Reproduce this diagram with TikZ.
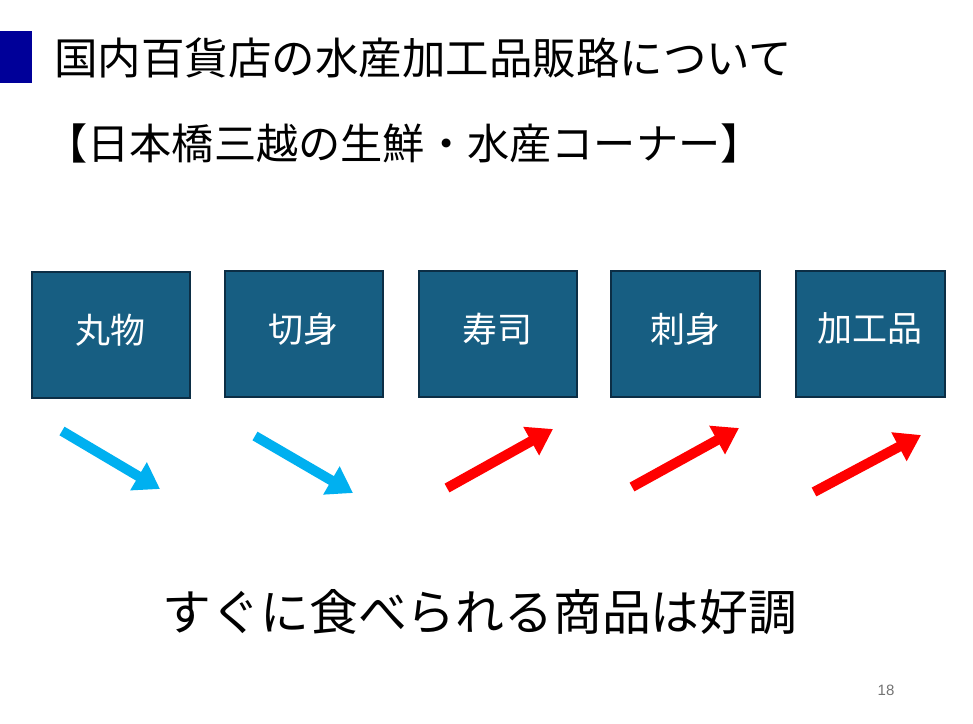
\documentclass[tikz,border=0pt]{standalone}
\usepackage{fontspec}
\setmainfont{Noto Sans CJK JP}
\newfontfamily\numfont{Liberation Sans}
\usetikzlibrary{arrows.meta}
\definecolor{markblue}{HTML}{000099}
\definecolor{boxfill}{HTML}{175E82}
\definecolor{boxedge}{HTML}{0C2E45}
\definecolor{downblue}{HTML}{00B0F0}
\definecolor{upred}{HTML}{FF0000}
\tikzset{
  itembox/.style={draw=boxedge, line width=1.5pt, fill=boxfill, text=white,
    minimum width=158pt, minimum height=126pt, inner sep=0pt, anchor=north west,
    font=\fontsize{35}{40}\selectfont},
  boxlabel/.style={text=white, inner sep=0pt, font=\fontsize{35}{40}\selectfont},
  bigarrow/.style={line width=10pt, -{Triangle[width=31pt,length=25pt]}},
  downarrow/.style={bigarrow, draw=downblue},
  uparrow/.style={bigarrow, draw=upred}
}
\begin{document}
\begin{tikzpicture}[x=1pt,y=-1pt]
\useasboundingbox (0,0) rectangle (973,723);
\fill[white] (0,0) rectangle (973,723);
\fill[markblue] (0,31) rectangle (32,83);
\node[anchor=west, inner sep=0pt, font=\fontsize{43.5}{50}\selectfont] (title) at (54,58) {国内百貨店の水産加工品販路について};
\node[anchor=center, inner sep=0pt, font=\fontsize{42.2}{48}\selectfont] (sub) at (404,143) {【日本橋三越の生鮮・水産コーナー】};
\node[itembox] (b1) at (31,271) {};
\node[itembox] (b2) at (224,270) {};
\node[itembox] (b3) at (418,270) {};
\node[itembox, minimum width=149pt] (b4) at (610,270) {};
\node[itembox, minimum width=149pt] (b5) at (795,270) {};
\node[boxlabel] (t1) at ([yshift=5pt]b1.center) {丸物};
\node[boxlabel] (t2) at ([yshift=5pt]b2.center) {切身};
\node[boxlabel] (t3) at ([yshift=5pt]b3.center) {寿司};
\node[boxlabel] (t4) at ([yshift=5pt]b4.center) {刺身};
\node[boxlabel] (t5) at ([yshift=5pt]b5.center) {加工品};
\coordinate (a1s) at (62,431);
\coordinate (a1e) at (160,489);
\coordinate (a2s) at (255,436);
\coordinate (a2e) at (353,493);
\coordinate (a3s) at (447,488);
\coordinate (a3e) at (553,429);
\coordinate (a4s) at (632,487);
\coordinate (a4e) at (739,428);
\coordinate (a5s) at (814,492);
\coordinate (a5e) at (921,435);
\draw[downarrow] (a1s) -- (a1e);
\draw[downarrow] (a2s) -- (a2e);
\draw[uparrow] (a3s) -- (a3e);
\draw[uparrow] (a4s) -- (a4e);
\draw[uparrow] (a5s) -- (a5e);
\node[anchor=center, inner sep=0pt, font=\fontsize{48.8}{56}\selectfont] (bottom) at (480,612) {すぐに食べられる商品は好調};
\node[anchor=center, inner sep=0pt, text=black!55, font=\numfont\fontsize{15}{17}\selectfont] (page) at (886,690) {18};
\end{tikzpicture}
\end{document}
